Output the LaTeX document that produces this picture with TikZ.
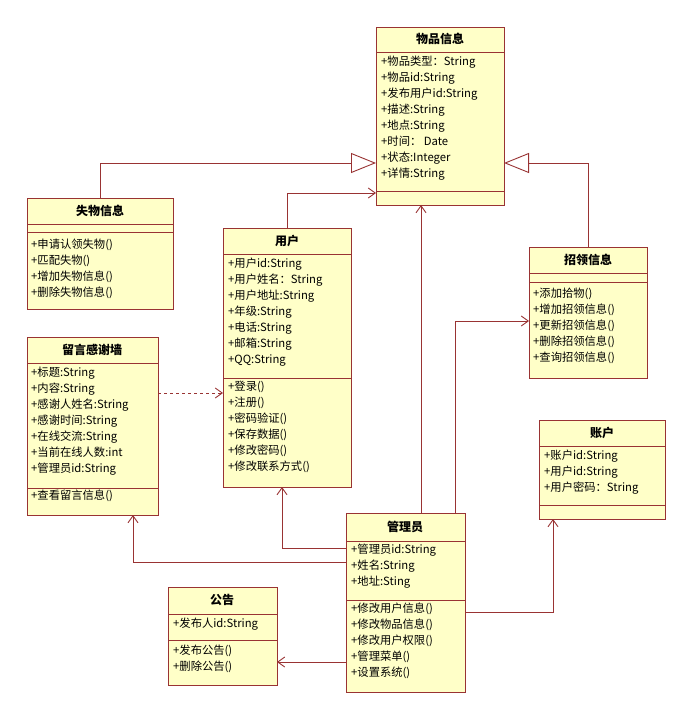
\documentclass[tikz,border=0pt]{standalone}
\usepackage{fontspec}
\setmainfont{Noto Sans CJK SC}
\usetikzlibrary{arrows.meta}
\definecolor{bd}{HTML}{993333}
\definecolor{fl}{HTML}{FFFFC8}
\begin{document}
\begin{tikzpicture}[x=1pt,y=-1pt,
 box/.style={draw=bd,fill=fl,line width=0.9pt,anchor=north west,inner sep=0,outer sep=0},
 ttl/.style={font=\fontsize{12}{14}\selectfont\bfseries},
 txt/.style={anchor=north west,align=left,inner sep=0,font=\fontsize{11.3}{16}\selectfont},
 sep/.style={draw=bd,line width=0.9pt},
 con/.style={draw=bd,line width=0.9pt,-{Straight Barb[length=7pt,width=10pt]}},
 gen/.style={draw=bd,line width=0.9pt,-{Triangle[open,length=25pt,width=20pt,fill=white]}}]
\useasboundingbox (0,0) rectangle (693,719);
% 物品信息
\node[box,minimum width=128,minimum height=178] (wp) at (376,27) {};
\node[ttl] at (440,39) {物品信息};
\draw[sep] (376,52)--(504,52) (376,191)--(504,191);
\node[txt] at (381,56) {+物品类型：String\\+物品id:String\\+发布用户id:String\\+描述:String\\+地点:String\\+时间： Date\\+状态:Integer\\+详情:String};
% 失物信息
\node[box,minimum width=146,minimum height=111] (sw) at (27,198) {};
\node[ttl] at (100,211) {失物信息};
\draw[sep] (27,224)--(173,224) (27,232)--(173,232);
\node[txt] at (31,239) {+申请认领失物()\\+匹配失物()\\+增加失物信息()\\+删除失物信息()};
% 用户
\node[box,minimum width=128,minimum height=259] (yh) at (223,228) {};
\node[ttl] at (287,241) {用户};
\draw[sep] (223,254)--(351,254) (223,378)--(351,378);
\node[txt] at (228,258) {+用户id:String\\+用户姓名：String\\+用户地址:String\\+年级:String\\+电话:String\\+邮箱:String\\+QQ:String};
\node[txt] at (228,381) {+登录()\\+注册()\\+密码验证()\\+保存数据()\\+修改密码()\\+修改联系方式()};
% 招领信息
\node[box,minimum width=118,minimum height=131] (zl) at (529,247) {};
\node[ttl] at (588,260) {招领信息};
\draw[sep] (529,273)--(647,273) (529,282)--(647,282);
\node[txt] at (533,288) {+添加拾物()\\+增加招领信息()\\+更新招领信息()\\+删除招领信息()\\+查询招领信息()};
% 留言感谢墙
\node[box,minimum width=131,minimum height=178] (ly) at (27,337) {};
\node[ttl] at (92,350) {留言感谢墙};
\draw[sep] (27,363)--(158,363) (27,488)--(158,488);
\node[txt] at (31,367) {+标题:String\\+内容:String\\+感谢人姓名:String\\+感谢时间:String\\+在线交流:String\\+当前在线人数:int\\+管理员id:String};
\node[txt] at (31,490) {+查看留言信息()};
% 账户
\node[box,minimum width=126,minimum height=99] (zh) at (539,420) {};
\node[ttl] at (602,433) {账户};
\draw[sep] (539,446)--(665,446) (539,505)--(665,505);
\node[txt] at (544,450) {+账户id:String\\+用户id:String\\+用户密码：String};
% 管理员
\node[box,minimum width=119,minimum height=179] (gl) at (346,513) {};
\node[ttl] at (405,527) {管理员};
\draw[sep] (346,541)--(465,541) (346,600)--(465,600);
\node[txt] at (351,544) {+管理员id:String\\+姓名:String\\+地址:Sting};
\node[txt] at (351,603) {+修改用户信息()\\+修改物品信息()\\+修改用户权限()\\+管理菜单()\\+设置系统()};
% 公告
\node[box,minimum width=109,minimum height=98] (gg) at (168,587) {};
\node[ttl] at (222,600) {公告};
\draw[sep] (168,614)--(277,614) (168,640)--(277,640);
\node[txt] at (173,618) {+发布人id:String};
\node[txt] at (173,645) {+发布公告()\\+删除公告()};
% connectors
\draw[gen] (sw.north) |- (wp.west |- 0,163);
\draw[gen] (zl.north) |- (wp.east |- 0,163);
\draw[con] (yh.north) |- (wp.west |- 0,193);
\draw[con] (gl.north -| 421,0) -- (wp.south -| 421,0);
\draw[con] (gl.north -| 455,0) |- (zl.west |- 0,321);
\draw[con] (gl.west |- 0,548) -| (yh.south -| 282,0);
\draw[con] (gl.west |- 0,562) -| (ly.south -| 133,0);
\draw[con] (gl.east |- 0,612) -| (zh.south -| 553,0);
\draw[con] (gl.west |- 0,662) -- (gg.east |- 0,662);
\draw[con,dashed] (ly.east |- 0,393) -- (yh.west |- 0,393);
\end{tikzpicture}
\end{document}
